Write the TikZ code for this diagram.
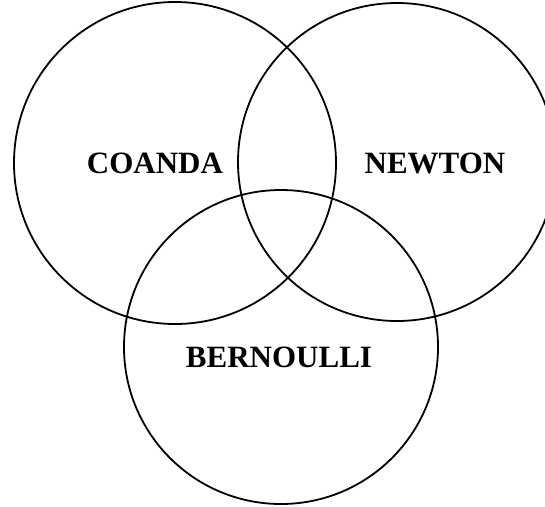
\documentclass[tikz,border=0pt]{standalone}
\usepackage{fontspec}
\setmainfont{Liberation Serif}
\begin{document}
\begin{tikzpicture}[x=1pt,y=-1pt,
  ring/.style={draw=black,line width=1.8pt},
  lbl/.style={font=\fontsize{31}{34}\selectfont\bfseries,inner sep=0pt}]
\useasboundingbox (0,0) rectangle (545,506);
\clip (0,0) rectangle (545,506);
\draw[ring] (175,163) circle[radius=161];
\draw[ring] (397,162) circle[radius=159];
\draw[ring] (281,347) circle[radius=157];
\node[lbl] (coanda) at (155,163) {COANDA};
\node[lbl] (newton) at (435,163) {NEWTON};
\node[lbl] (bernoulli) at (279,357) {BERNOULLI};
\end{tikzpicture}
\end{document}
